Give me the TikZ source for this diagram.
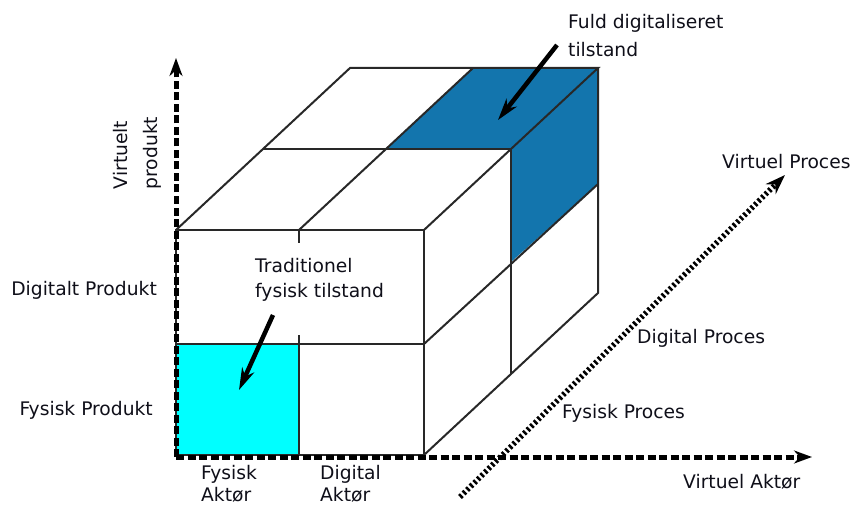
\documentclass[tikz,border=0pt]{standalone}
\usepackage{fontspec}
\setmainfont{DejaVu Sans}
\usetikzlibrary{arrows.meta}
\definecolor{cubeblue}{RGB}{19,117,173}
\definecolor{cubecyan}{RGB}{0,255,255}
\definecolor{edgegray}{RGB}{40,40,40}
\definecolor{txt}{RGB}{15,15,25}
\tikzset{
  edge/.style={draw=edgegray, line width=2pt},
  axis/.style={draw=black, line width=5pt, dash pattern=on 8pt off 3.5pt, -{Stealth[length=18pt,width=13pt]}},
  diagaxis/.style={draw=black, line width=5.5pt, dash pattern=on 2.5pt off 2.5pt, -{Stealth[length=20pt,width=14pt]}},
  callout/.style={draw=black, line width=4.5pt, -{Stealth[length=22pt,width=13pt]}},
  lbl/.style={inner sep=0pt, text=txt, font=\fontsize{18.7}{22}\selectfont},
}
\begin{document}
\begin{tikzpicture}[x=1pt, y=-1pt]
\useasboundingbox (0,0) rectangle (852,508);
% fills
\fill[cubeblue] (386,149) -- (511,149) -- (598,68) -- (473,68) -- cycle;
\fill[cubeblue] (511,149) -- (598,68) -- (598,184) -- (511,262) -- cycle;
\fill[cubecyan] (176,344) rectangle (299,455);
% front face
\draw[edge] (176,230) rectangle (424,455);
\draw[edge] (176,344) -- (424,344);
\draw[edge] (299,230) -- (299,243);
\draw[edge] (299,335) -- (299,455);
% top face
\draw[edge] (176,230) -- (350,68) -- (598,68) -- (424,230);
\draw[edge] (299,230) -- (473,68);
\draw[edge] (263,149) -- (511,149);
% right face
\draw[edge] (598,68) -- (598,293) -- (424,455);
\draw[edge] (424,344) -- (598,184);
\draw[edge] (511,149) -- (511,374);
% axes
\coordinate (O) at (176,457);
\coordinate (ytip) at (176,58);
\coordinate (xtip) at (812,457);
\coordinate (zstart) at (460,497);
\coordinate (ztip) at (785,175);
\draw[axis] (O) -- (ytip);
\draw[axis] (O) -- (xtip);
\draw[diagaxis] (zstart) -- (ztip);
% labels
\node[lbl, rotate=90, align=left, font=\fontsize{18.7}{30}\selectfont] (vprod) at (137,153) {Virtuelt\\produkt};
\node[lbl, anchor=east] (dprod) at (157,290) {Digitalt Produkt};
\node[lbl, anchor=east] (fprod) at (153,410) {Fysisk Produkt};
\node[lbl, anchor=west, align=left] (fakt) at (201,484) {Fysisk\\Aktør};
\node[lbl, anchor=west, align=left] (dakt) at (320,484) {Digital\\Aktør};
\node[lbl, anchor=west] (vakt) at (683,482) {Virtuel Aktør};
\node[lbl, anchor=west] (fproc) at (562,413) {Fysisk Proces};
\node[lbl, anchor=west] (dproc) at (637,338) {Digital Proces};
\node[lbl, anchor=west] (vproc) at (722,162) {Virtuel Proces};
\node[lbl, anchor=west, align=left, font=\fontsize{18.7}{28}\selectfont] (fuld) at (568,36) {Fuld digitaliseret\\tilstand};
\node[lbl, anchor=west, align=left, font=\fontsize{18.7}{25}\selectfont] (trad) at (255,280) {Traditionel\\fysisk tilstand};
% callouts
\coordinate (fuldstart) at (557,45);
\coordinate (fuldtip) at (498,120);
\coordinate (tradstart) at (273,315);
\coordinate (tradtip) at (239,390);
\draw[callout] (fuldstart) -- (fuldtip);
\draw[callout] (tradstart) -- (tradtip);
\end{tikzpicture}
\end{document}
